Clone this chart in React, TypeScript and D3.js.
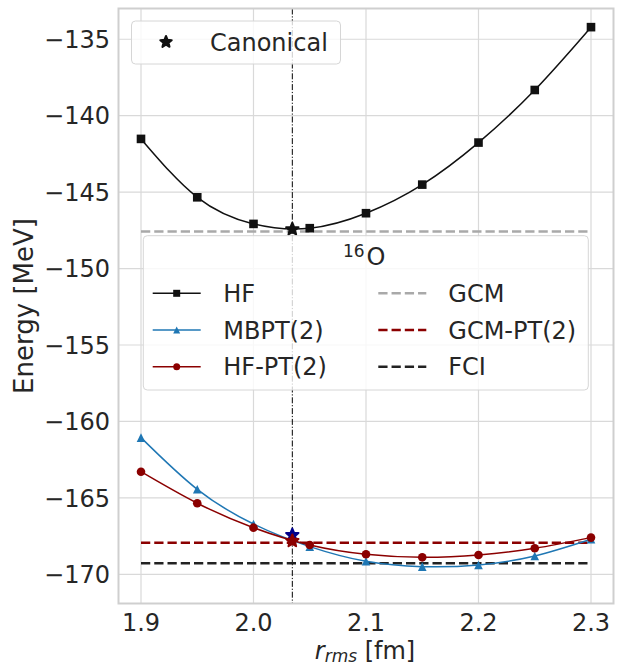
import React from "react";
import * as d3 from "d3";

const rValues = [1.9, 1.95, 2.0, 2.05, 2.1, 2.15, 2.2, 2.25, 2.3];
const hfEnergy = [-141.52, -145.34, -147.08, -147.36, -146.38, -144.51, -141.76, -138.32, -134.21];
const mbptEnergy = [-161.06, -164.44, -166.71, -168.19, -169.15, -169.5, -169.39, -168.8, -167.71];
const hfpt2Energy = [-163.29, -165.35, -166.95, -168.08, -168.69, -168.89, -168.74, -168.3, -167.6];
const gcmEnergy = -147.57;
const gcmPt2Energy = -167.93;
const fciEnergy = -169.28;
const canonicalR = 2.0345;
const canonicalEnergies = [-147.43, -167.43, -167.82];
const canonicalColors = ["#111111", "#00008b", "#8b0000"];
const xTicks = [1.9, 2.0, 2.1, 2.2, 2.3];
const yTicks = [-170, -165, -160, -155, -150, -145, -140, -135];

const W = 618;
const H = 666;
const L = 118.5, R = 613.5, T = 8.5, B = 603.5;
const FONT = "DejaVu Sans, sans-serif";
const TXT = "#262626";
const BLUE = "#1f77b4";
const DRED = "#8b0000";
const GRAY = "#a9a9a9";

function starPath(cx: number, cy: number, r: number) {
  const pts: string[] = [];
  for (let i = 0; i < 10; i++) {
    const rr = i % 2 === 0 ? r : r * 0.45;
    const a = -Math.PI / 2 + (i * Math.PI) / 5;
    pts.push(`${cx + rr * Math.cos(a)},${cy + rr * Math.sin(a)}`);
  }
  return "M" + pts.join("L") + "Z";
}
function triPath(cx: number, cy: number, s: number) {
  const h = s / 2;
  return `M${cx},${cy - h}L${cx + h},${cy + h}L${cx - h},${cy + h}Z`;
}

export default function App() {
  const x = d3.scaleLinear().domain([1.88, 2.32]).range([L, R]);
  const y = d3.scaleLinear().domain([-171.91, -132.99]).range([B, T]);
  const line = d3
    .line<number>()
    .x((_, i) => x(rValues[i]))
    .y((d) => y(d))
    .curve(d3.curveNatural);

  const hLine = (v: number, color: string, key: string) => (
    <line key={key} x1={x(1.9)} x2={x(2.3)} y1={y(v)} y2={y(v)} stroke={color}
      strokeWidth={2.5} strokeDasharray="9.25,4" />
  );

  const rowY = [293.3, 330, 366.7];
  const c1 = 152.7, c2 = 378.3, hl = 48;

  return (
    <svg width={W} height={H} style={{ position: "absolute", left: 0, top: 0, background: "#fff" }}
      fontFamily={FONT}>
      <rect x={0} y={0} width={W} height={H} fill="#fff" />
      {xTicks.map((t) => (
        <line key={"gx" + t} x1={x(t)} x2={x(t)} y1={T} y2={B} stroke="#d9d9d9" strokeWidth={1.2} />
      ))}
      {yTicks.map((t) => (
        <line key={"gy" + t} x1={L} x2={R} y1={y(t)} y2={y(t)} stroke="#d9d9d9" strokeWidth={1.2} />
      ))}
      <line x1={x(canonicalR)} x2={x(canonicalR)} y1={T} y2={B} stroke="#000" strokeWidth={1}
        strokeDasharray="6,1.8,1.2,1.8" />
      {hLine(gcmEnergy, GRAY, "gcm")}
      {hLine(gcmPt2Energy, DRED, "gcmpt")}
      {hLine(fciEnergy, "#222222", "fci")}
      <path d={line(hfEnergy) || ""} fill="none" stroke="#111" strokeWidth={1.5} />
      <path d={line(mbptEnergy) || ""} fill="none" stroke={BLUE} strokeWidth={1.5} />
      <path d={line(hfpt2Energy) || ""} fill="none" stroke={DRED} strokeWidth={1.5} />
      {hfEnergy.map((v, i) => (
        <rect key={"hf" + i} x={x(rValues[i]) - 4.3} y={y(v) - 4.3} width={8.6} height={8.6} fill="#111" />
      ))}
      {mbptEnergy.map((v, i) => (
        <path key={"mb" + i} d={triPath(x(rValues[i]), y(v), 8.6)} fill={BLUE} />
      ))}
      {hfpt2Energy.map((v, i) => (
        <circle key={"hp" + i} cx={x(rValues[i])} cy={y(v)} r={4.3} fill={DRED} />
      ))}
      {canonicalEnergies.map((v, i) => (
        <path key={"st" + i} d={starPath(x(canonicalR), y(v), 6.5)} fill={canonicalColors[i]}
          stroke={canonicalColors[i]} strokeWidth={2} strokeLinejoin="round" />
      ))}
      <rect x={L} y={T} width={R - L} height={B - T} fill="none" stroke="#cfcfcf" strokeWidth={2} />
      {xTicks.map((t) => (
        <text key={"tx" + t} x={x(t)} y={630.5} textAnchor="middle" fontSize={24} fill={TXT}>
          {t.toFixed(1)}
        </text>
      ))}
      {yTicks.map((t) => (
        <text key={"ty" + t} x={110} y={y(t) + 8.8} textAnchor="end" fontSize={24} fill={TXT}>
          {"\u2212" + Math.abs(t)}
        </text>
      ))}
      <text x={365} y={659} textAnchor="middle" fontSize={24} fill={TXT}>
        <tspan fontStyle="italic">r</tspan>
        <tspan fontStyle="italic" fontSize={17} dy={2.5}>rms</tspan>
        <tspan dy={-2.5}> [fm]</tspan>
      </text>
      <text transform={`translate(33,${(T + B) / 2}) rotate(-90)`} textAnchor="middle" fontSize={26} fill={TXT}>
        Energy [MeV]
      </text>
      <rect x={131.5} y={21} width={209} height={43} rx={4} fill="#fff" fillOpacity={0.8}
        stroke="#d6d6d6" strokeWidth={1} />
      <path d={starPath(166, 42, 6)} fill="#111" stroke="#111" strokeWidth={2} strokeLinejoin="round" />
      <text x={210} y={50.7} fontSize={24} fill={TXT}>Canonical</text>
      <rect x={143.3} y={235.7} width={445} height={154.3} rx={4} fill="#fff" fillOpacity={0.8}
        stroke="#d6d6d6" strokeWidth={1} />
      <text x={343} y={257} fontSize={17} fill={TXT}>16</text>
      <text x={366.5} y={265} fontSize={24} fill={TXT}>O</text>
      <line x1={c1} x2={c1 + hl} y1={rowY[0]} y2={rowY[0]} stroke="#111" strokeWidth={1.5} />
      <rect x={c1 + hl / 2 - 3.5} y={rowY[0] - 3.5} width={7} height={7} fill="#111" />
      <line x1={c1} x2={c1 + hl} y1={rowY[1]} y2={rowY[1]} stroke={BLUE} strokeWidth={1.5} />
      <path d={triPath(c1 + hl / 2, rowY[1], 7)} fill={BLUE} />
      <line x1={c1} x2={c1 + hl} y1={rowY[2]} y2={rowY[2]} stroke={DRED} strokeWidth={1.5} />
      <circle cx={c1 + hl / 2} cy={rowY[2]} r={3.5} fill={DRED} />
      <text x={223.3} y={rowY[0] + 8.7} fontSize={24} fill={TXT}>HF</text>
      <text x={223.3} y={rowY[1] + 8.7} fontSize={24} fill={TXT}>MBPT(2)</text>
      <text x={223.3} y={rowY[2] + 8.7} fontSize={24} fill={TXT}>HF-PT(2)</text>
      <line x1={c2} x2={c2 + hl} y1={rowY[0]} y2={rowY[0]} stroke={GRAY} strokeWidth={2.5} strokeDasharray="9.25,4" />
      <line x1={c2} x2={c2 + hl} y1={rowY[1]} y2={rowY[1]} stroke={DRED} strokeWidth={2.5} strokeDasharray="9.25,4" />
      <line x1={c2} x2={c2 + hl} y1={rowY[2]} y2={rowY[2]} stroke="#222" strokeWidth={2.5} strokeDasharray="9.25,4" />
      <text x={448.3} y={rowY[0] + 8.7} fontSize={24} fill={TXT}>GCM</text>
      <text x={448.3} y={rowY[1] + 8.7} fontSize={24} fill={TXT}>GCM-PT(2)</text>
      <text x={448.3} y={rowY[2] + 8.7} fontSize={24} fill={TXT}>FCI</text>
    </svg>
  );
}
